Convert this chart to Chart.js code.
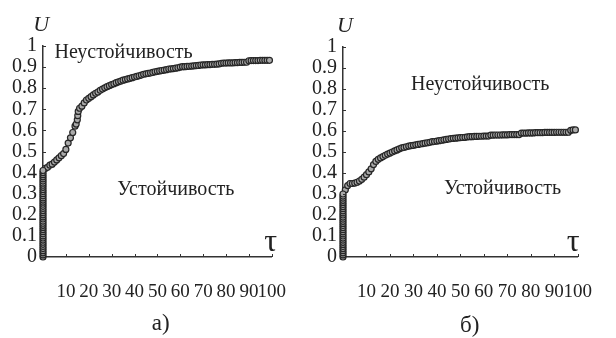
<!DOCTYPE html>
<html>
<head>
<meta charset="utf-8">
<script src="https://cdn.jsdelivr.net/npm/chart.js@4/dist/chart.umd.min.js"></script>
</head>
<body style="margin:0">
<div style="position:absolute;left:0;top:0"><canvas id="chartA" width="310" height="338"></canvas></div>
<div style="position:absolute;left:310px;top:0"><canvas id="chartB" width="306" height="338"></canvas></div>
<script>
// axis ticks
const tauTicks = [0, 10, 20, 30, 40, 50, 60, 70, 80, 90, 100];
const uTicks = [0, 0.1, 0.2, 0.3, 0.4, 0.5, 0.6, 0.7, 0.8, 0.9, 1];

// panel а) — vertical run at tau = 0, then the curve
const columnA = [0, 0.01, 0.02, 0.03, 0.04, 0.05, 0.06, 0.07, 0.08, 0.09, 0.1, 0.11, 0.12, 0.13, 0.14,
  0.15, 0.16, 0.17, 0.18, 0.19, 0.2, 0.21, 0.22, 0.23, 0.24, 0.25, 0.26, 0.27, 0.28, 0.29, 0.3,
  0.31, 0.32, 0.33, 0.34, 0.35, 0.36, 0.37, 0.38, 0.39, 0.4, 0.41];
const tauA = [1, 2, 3, 4, 5, 6, 7, 8, 9, 10, 11, 12, 13, 14, 14.5, 15, 15.2, 15.4, 16, 17, 18, 19, 20,
  21, 22, 23, 24, 25, 26, 27, 28, 29, 30, 31, 32, 33, 34, 35, 36, 37, 38, 39, 40,
  41, 42, 43, 44, 45, 46, 47, 48, 49, 50, 51, 52, 53, 54, 55, 56, 57, 58, 59, 60,
  61, 62, 63, 64, 65, 66, 67, 68, 69, 70, 71, 72, 73, 74, 75, 76, 77, 78, 79, 80,
  81, 82, 83, 84, 85, 86, 87, 88, 89, 90, 91, 92, 93, 94, 95, 96, 97, 98, 99];
const uA = [0.42, 0.425, 0.435, 0.44, 0.45, 0.46, 0.47, 0.48, 0.49, 0.51, 0.54, 0.565, 0.59, 0.62, 0.63, 0.65, 0.67, 0.69, 0.705, 0.715, 0.73, 0.744, 0.752,
  0.76, 0.768, 0.776, 0.782, 0.79, 0.796, 0.802, 0.807, 0.812, 0.817, 0.821, 0.826, 0.83, 0.834, 0.838, 0.841, 0.844, 0.847, 0.85, 0.853,
  0.856, 0.859, 0.862, 0.866, 0.868, 0.87, 0.872, 0.875, 0.878, 0.88, 0.882, 0.884, 0.886, 0.888, 0.891, 0.892, 0.893, 0.895, 0.897, 0.9,
  0.902, 0.902, 0.903, 0.904, 0.905, 0.906, 0.907, 0.908, 0.91, 0.911, 0.911, 0.912, 0.912, 0.913, 0.913, 0.914, 0.915, 0.918, 0.919, 0.919,
  0.92, 0.92, 0.92, 0.921, 0.921, 0.922, 0.922, 0.923, 0.923, 0.93, 0.931, 0.931, 0.931, 0.931, 0.932, 0.932, 0.932, 0.932, 0.932];

// panel б)
const columnB = [0, 0.01, 0.02, 0.03, 0.04, 0.05, 0.06, 0.07, 0.08, 0.09, 0.1, 0.11, 0.12, 0.13, 0.14,
  0.15, 0.16, 0.17, 0.18, 0.19, 0.2, 0.21, 0.22, 0.23, 0.24, 0.25, 0.26, 0.27, 0.28, 0.29, 0.3];
const tauB = [1, 2, 3, 4, 5, 6, 7, 8, 9, 10, 11, 12, 13, 14, 15, 16, 17, 18, 19, 20,
  21, 22, 23, 24, 25, 26, 27, 28, 29, 30, 31, 32, 33, 34, 35, 36, 37, 38, 39, 40,
  41, 42, 43, 44, 45, 46, 47, 48, 49, 50, 51, 52, 53, 54, 55, 56, 57, 58, 59, 60,
  61, 62, 63, 64, 65, 66, 67, 68, 69, 70, 71, 72, 73, 74, 75, 76, 77, 78, 79, 80,
  81, 82, 83, 84, 85, 86, 87, 88, 89, 90, 91, 92, 93, 94, 95, 96, 97, 98, 99];
const uB = [0.32, 0.34, 0.35, 0.35, 0.352, 0.356, 0.362, 0.37, 0.38, 0.392, 0.405, 0.42, 0.44, 0.455, 0.465, 0.472, 0.478, 0.484, 0.49, 0.495,
  0.5, 0.505, 0.51, 0.515, 0.52, 0.522, 0.525, 0.528, 0.53, 0.532, 0.534, 0.536, 0.538, 0.54, 0.542, 0.544, 0.546, 0.549, 0.55, 0.552,
  0.554, 0.556, 0.558, 0.56, 0.562, 0.564, 0.565, 0.566, 0.567, 0.568, 0.569, 0.57, 0.572, 0.573, 0.573, 0.574, 0.574, 0.575, 0.575, 0.576,
  0.576, 0.576, 0.58, 0.58, 0.581, 0.581, 0.581, 0.582, 0.582, 0.582, 0.583, 0.583, 0.583, 0.583, 0.583, 0.59, 0.59, 0.59, 0.591, 0.591,
  0.591, 0.592, 0.592, 0.592, 0.592, 0.593, 0.593, 0.593, 0.593, 0.593, 0.594, 0.594, 0.594, 0.594, 0.594, 0.594, 0.603, 0.605, 0.605];

const inkColor = '#222';

// pick the first serif face that really resolves (differs from sans-serif and monospace)
function pickSerif() {
  const m = document.createElement('canvas').getContext('2d');
  const probe = 'Неустойчивость 0.9 WiMl';
  const width = f => { m.font = f; return m.measureText(probe).width; };
  const sans = width('20px sans-serif');
  const mono = width('20px monospace');
  const candidates = ['Liberation Serif', 'Tinos', 'Times New Roman', 'FreeSerif', 'DejaVu Serif', 'Noto Serif'];
  for (const c of candidates) {
    const w1 = width('20px "' + c + '", monospace');
    const w2 = width('20px "' + c + '", sans-serif');
    if (Math.abs(w1 - mono) > 0.5 && Math.abs(w2 - sans) > 0.5) return '"' + c + '"';
  }
  return 'serif';
}
const serifFamily = pickSerif();

function toPoints(xs, ys) {
  return ys.map((y, i) => ({ x: xs[i], y: y }));
}

// short inward tick marks on both axes
const innerTicks = {
  id: 'innerTicks',
  afterDraw(chart) {
    const ctx = chart.ctx, a = chart.chartArea;
    const xs = chart.scales.x, ys = chart.scales.y;
    ctx.save();
    ctx.strokeStyle = '#333';
    ctx.lineWidth = 1;
    ctx.beginPath();
    tauTicks.forEach(t => {
      if (t === 0) return;
      const px = Math.round(xs.getPixelForValue(t)) + 0.5;
      ctx.moveTo(px, a.bottom);
      ctx.lineTo(px, a.bottom - 3);
    });
    uTicks.forEach(u => {
      if (u === 0) return;
      const py = Math.round(ys.getPixelForValue(u)) + 0.5;
      ctx.moveTo(a.left, py);
      ctx.lineTo(a.left + 3, py);
    });
    ctx.stroke();
    ctx.restore();
  }
};

// texts placed in data coordinates
const textLabels = {
  id: 'textLabels',
  afterDraw(chart, args, opts) {
    const ctx = chart.ctx;
    ctx.save();
    ctx.fillStyle = inkColor;
    ctx.textBaseline = 'middle';
    (opts.items || []).forEach(it => {
      ctx.font = it.font;
      ctx.textAlign = it.align || 'left';
      ctx.fillText(it.text, chart.scales.x.getPixelForValue(it.x), chart.scales.y.getPixelForValue(it.y));
    });
    ctx.restore();
  }
};

function makeChart(id, column, xs, ys, pad, yWidth, xHeight, items) {
  const ctx = document.getElementById(id).getContext('2d');
  const pointStyle = {
    showLine: false,
    pointRadius: 3,
    pointBorderWidth: 1.2,
    pointBorderColor: '#262626',
    pointBackgroundColor: '#aaaaaa',
    clip: false
  };
  return new Chart(ctx, {
    type: 'scatter',
    data: {
      datasets: [
        Object.assign({ label: 'column', data: column.map(u => ({ x: 0, y: u })) }, pointStyle),
        Object.assign({ label: 'U', data: toPoints(xs, ys) }, pointStyle)
      ]
    },
    options: {
      responsive: false,
      animation: false,
      layout: { padding: pad },
      plugins: {
        legend: { display: false },
        tooltip: { enabled: false },
        textLabels: { items: items }
      },
      scales: {
        x: {
          type: 'linear',
          min: 0, max: 100,
          afterBuildTicks: s => { s.ticks = tauTicks.map(v => ({ value: v })); },
          afterFit: s => { s.height = xHeight; },
          grid: { display: false, drawTicks: false },
          border: { display: true, color: '#333', width: 1.5 },
          ticks: {
            padding: 24,
            color: inkColor,
            font: { family: serifFamily, size: 19 },
            maxRotation: 0,
            autoSkip: false,
            callback: v => (v === 0 ? '' : String(v))
          }
        },
        y: {
          type: 'linear',
          min: 0, max: 1,
          afterBuildTicks: s => { s.ticks = uTicks.map(v => ({ value: v })); },
          afterFit: s => { s.width = yWidth; },
          grid: { display: false, drawTicks: false },
          border: { display: true, color: '#333', width: 1.5 },
          ticks: {
            padding: 6,
            color: inkColor,
            font: { family: serifFamily, size: 20 },
            autoSkip: false,
            callback: v => String(Math.round(v * 10) / 10)
          }
        }
      }
    },
    plugins: [innerTicks, textLabels]
  });
}

const charts = [
  makeChart('chartA', columnA, tauA, uA, { top: 46, right: 15, left: 0, bottom: 0 }, 43, 81, [
    { text: 'U', x: -0.8, y: 1.1, font: 'italic 22px ' + serifFamily, align: 'center' },
    { text: 'Неустойчивость', x: 5, y: 0.97, font: '20px ' + serifFamily },
    { text: 'Устойчивость', x: 32.5, y: 0.317, font: '20px ' + serifFamily },
    { text: 'τ', x: 99.5, y: 0.07, font: '32px ' + serifFamily, align: 'center' },
    { text: 'а)', x: 51.5, y: -0.315, font: '23px ' + serifFamily, align: 'center' }
  ]),
  makeChart('chartB', columnB, tauB, uB, { top: 47, right: 19, left: 0, bottom: 0 }, 33, 81, [
    { text: 'U', x: 0.8, y: 1.1, font: 'italic 22px ' + serifFamily, align: 'center' },
    { text: 'Неустойчивость', x: 29, y: 0.82, font: '20px ' + serifFamily },
    { text: 'Устойчивость', x: 43, y: 0.324, font: '20px ' + serifFamily },
    { text: 'τ', x: 98, y: 0.07, font: '32px ' + serifFamily, align: 'center' },
    { text: 'б)', x: 54, y: -0.33, font: '23px ' + serifFamily, align: 'center' }
  ])
];

// redraw once fonts have settled
document.fonts.ready.then(() => charts.forEach(c => c.render()));
setTimeout(() => charts.forEach(c => c.render()), 60);
</script>
</body>
</html>
